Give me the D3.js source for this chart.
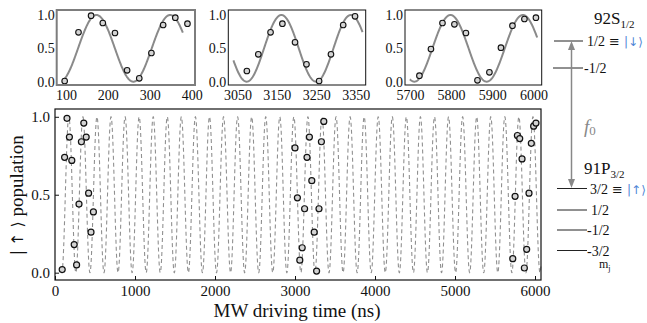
<!DOCTYPE html>
<html>
<head>
<meta charset="utf-8">
<script src="https://cdn.jsdelivr.net/npm/d3@7"></script>
<style>
  html, body { margin: 0; padding: 0; background: #fff; }
  svg { display: block; font-family: "Liberation Serif", "DejaVu Serif", serif; }
</style>
</head>
<body>
<svg id="chart" width="647" height="323"></svg>
<script>
// fit: P(t) = 0.5 - 0.5 cos(2pi (t - t0) / T), t0 = time of a minimum
const fitPeriod = 175.8;
const fitT0 = 85;

// main panel data (ns, population)
const times1 = [90, 120, 150, 180, 210, 240, 270, 300, 330, 360, 390, 420, 450, 480];
const pop1 = [0.02, 0.74, 0.99, 0.87, 0.72, 0.18, 0.05, 0.44, 0.84, 0.96, 0.87, 0.51, 0.26, 0.39];
const times2 = [3000, 3030, 3060, 3090, 3120, 3150, 3180, 3210, 3240, 3270, 3300, 3330, 3360];
const pop2 = [0.80, 0.48, 0.08, 0.16, 0.41, 0.74, 0.87, 0.59, 0.26, 0.01, 0.41, 0.84, 0.97];
const times3 = [5722, 5751, 5780, 5809, 5838, 5867, 5896, 5925, 5954, 5983, 6012];
const pop3 = [0.09, 0.49, 0.88, 0.86, 0.73, 0.03, 0.15, 0.51, 0.83, 0.94, 0.96];

// insets
const inset1Times = [97, 130, 160, 188, 217, 246, 275, 304, 332, 361, 390];
const inset1Pop = [0.01, 0.74, 0.99, 0.88, 0.73, 0.17, 0.05, 0.43, 0.85, 0.96, 0.87];
const inset2Times = [3074, 3103, 3134, 3164, 3196, 3225, 3257, 3287, 3318, 3348];
const inset2Pop = [0.16, 0.41, 0.74, 0.87, 0.59, 0.26, 0.01, 0.41, 0.85, 0.98];
const inset3Times = [5723, 5751, 5779, 5808, 5836, 5864, 5893, 5921, 5949, 5978, 6006];
const inset3Pop = [0.09, 0.49, 0.88, 0.86, 0.73, 0.02, 0.14, 0.51, 0.84, 0.94, 0.96];

const inset1Ticks = [100, 200, 300, 400];
const inset2Ticks = [3050, 3150, 3250, 3350];
const inset3Ticks = [5700, 5800, 5900, 6000];
const mainXTicks = [0, 1000, 2000, 3000, 4000, 5000, 6000];
const yTicks = [0, 0.5, 1];

const levelsS = ['1/2', '-1/2'];
const levelsP = ['3/2', '1/2', '-1/2', '-3/2'];

const svg = d3.select('#chart');
const fit = t => 0.5 - 0.5 * Math.cos(2 * Math.PI * (t - fitT0) / fitPeriod);
const fmt = d3.format('.1f');
const fmtX = d3.format('d');

function styleAxis(g, size) {
  g.attr('font-family', null).attr('font-size', null);
  g.select('.domain').remove();
  g.selectAll('text').attr('font-size', size).attr('fill', '#111');
  g.selectAll('line').attr('stroke', '#111');
}

// ---------- main panel ----------
const M = { left: 55, right: 541, top: 109, bottom: 280 };
const x = d3.scaleLinear().domain([0, 6075]).range([M.left, M.right]);
const y = d3.scaleLinear().domain([-0.047, 1.05]).range([M.bottom, M.top]);

const main = svg.append('g');
const curveT = d3.range(80, 6075, 1.5);
main.append('path')
  .attr('d', d3.line().x(t => x(t)).y(t => y(fit(t)))(curveT))
  .attr('fill', 'none').attr('stroke', '#909090').attr('stroke-width', 1.1)
  .attr('stroke-dasharray', '4,3');

main.append('g').attr('transform', `translate(0,${M.bottom})`)
  .call(d3.axisBottom(x).tickValues(mainXTicks).tickFormat(fmtX).tickSizeInner(-4).tickSizeOuter(0).tickPadding(5))
  .call(g => styleAxis(g, 15));
main.append('g').attr('transform', `translate(${M.left},0)`)
  .call(d3.axisLeft(y).tickValues(yTicks).tickFormat(fmt).tickSizeInner(-4).tickSizeOuter(0).tickPadding(5))
  .call(g => styleAxis(g, 15));

const mainPts = [
  ...times1.map((t, i) => [t, pop1[i]]),
  ...times2.map((t, i) => [t, pop2[i]]),
  ...times3.map((t, i) => [t, pop3[i]])
];
main.append('g').selectAll('circle').data(mainPts).join('circle')
  .attr('cx', d => x(d[0])).attr('cy', d => y(d[1])).attr('r', 3)
  .attr('fill', '#d4d4d4').attr('stroke', '#111').attr('stroke-width', 1.2);

main.append('rect').attr('x', M.left).attr('y', M.top)
  .attr('width', M.right - M.left).attr('height', M.bottom - M.top)
  .attr('fill', 'none').attr('stroke', '#111').attr('stroke-width', 1.2);

main.append('text').attr('x', 297).attr('y', 317).attr('text-anchor', 'middle')
  .attr('font-size', 19).attr('fill', '#111').text('MW driving time (ns)');

const yl = main.append('text').attr('transform', 'translate(23,195) rotate(-90)')
  .attr('text-anchor', 'middle').attr('font-size', 19).attr('fill', '#111');
yl.append('tspan').attr('font-weight', 'bold').text('| ');
yl.append('tspan').attr('font-family', 'DejaVu Sans').attr('font-size', 16).text('↑');
yl.append('tspan').attr('font-family', 'DejaVu Sans').attr('font-size', 16).text(' ⟩');
yl.append('tspan').text(' population');

// ---------- insets ----------
const insets = [
  { x0: 56.7, x1: 195, dom: [78, 408], ticks: inset1Ticks, times: inset1Times, pop: inset1Pop, curve: [92, 380], frame: '#7d7d7d', fw: 2 },
  { x0: 228.3, x1: 365.7, dom: [3027, 3375], ticks: inset2Ticks, times: inset2Times, pop: inset2Pop, curve: [3040, 3368], frame: '#111', fw: 1 },
  { x0: 405, x1: 541.7, dom: [5688, 6020], ticks: inset3Ticks, times: inset3Times, pop: inset3Pop, curve: [5700, 6010], frame: '#111', fw: 1 }
];
const iy = d3.scaleLinear().domain([-0.05, 1.075]).range([85, 10]);

insets.forEach(ins => {
  const g = svg.append('g');
  const ix = d3.scaleLinear().domain(ins.dom).range([ins.x0, ins.x1]);
  const ts = d3.range(ins.curve[0], ins.curve[1], 1);
  g.append('path')
    .attr('d', d3.line().x(t => ix(t)).y(t => iy(fit(t)))(ts))
    .attr('fill', 'none').attr('stroke', '#8a8a8a').attr('stroke-width', 2);
  g.append('g').selectAll('circle').data(ins.times.map((t, i) => [t, ins.pop[i]])).join('circle')
    .attr('cx', d => ix(d[0])).attr('cy', d => iy(d[1])).attr('r', 2.8)
    .attr('fill', '#d4d4d4').attr('stroke', '#111').attr('stroke-width', 1.1);
  g.append('g').attr('transform', 'translate(0,85)')
    .call(d3.axisBottom(ix).tickValues(ins.ticks).tickFormat(fmtX).tickSize(0).tickPadding(5))
    .call(a => styleAxis(a, 14));
  g.append('g').attr('transform', `translate(${ins.x0},0)`)
    .call(d3.axisLeft(iy).tickValues(yTicks).tickFormat(fmt).tickSize(0).tickPadding(2))
    .call(a => styleAxis(a, 14));
  g.append('rect').attr('x', ins.x0).attr('y', 10).attr('width', ins.x1 - ins.x0).attr('height', 75)
    .attr('fill', 'none').attr('stroke', ins.frame).attr('stroke-width', ins.fw);
});

// ---------- level diagram ----------
const lv = svg.append('g').attr('fill', '#111');
const blue = '#4f86d6';

function stateLabel(xx, yy, main, sub) {
  const tx = lv.append('text').attr('x', xx).attr('y', yy).attr('font-size', 17);
  tx.append('tspan').text(main);
  tx.append('tspan').attr('font-size', 11).attr('dy', 4).text(sub);
}
stateLabel(594, 24, '92S', '1/2');
stateLabel(584, 174, '91P', '3/2');

const sY = [41, 68];
levelsS.forEach((l, i) => {
  lv.append('line').attr('x1', i ? 553 : 554).attr('x2', 583).attr('y1', sY[i]).attr('y2', sY[i])
    .attr('stroke', '#222').attr('stroke-width', 1);
  const t = lv.append('text').attr('x', i ? 584 : 587).attr('y', sY[i] + 5).attr('font-size', 14).text(l);
  if (i === 0) {
    t.append('tspan').attr('font-family', 'DejaVu Sans').attr('font-size', 13).text(' ≡ ');
    t.append('tspan').attr('fill', blue).attr('font-family', 'DejaVu Sans').attr('font-size', 12).text('|↓⟩');
  }
});
const pY = [188.5, 210, 230, 250.5];
levelsP.forEach((l, i) => {
  lv.append('line').attr('x1', 557).attr('x2', 587).attr('y1', pY[i]).attr('y2', pY[i])
    .attr('stroke', '#222').attr('stroke-width', 1);
  const t = lv.append('text').attr('x', i === 1 ? 591 : (i === 0 ? 590 : 587)).attr('y', pY[i] + 5)
    .attr('font-size', 14).text(l);
  if (i === 0) {
    t.append('tspan').attr('font-family', 'DejaVu Sans').attr('font-size', 13).text(' ≡ ');
    t.append('tspan').attr('fill', blue).attr('font-family', 'DejaVu Sans').attr('font-size', 12).text('|↑⟩');
  }
});
const mj = lv.append('text').attr('x', 599).attr('y', 268).attr('font-size', 12);
mj.append('tspan').text('m');
mj.append('tspan').attr('font-size', 8).attr('dy', 3).text('j');

// double arrow
const ax = 571.5;
lv.append('line').attr('x1', ax).attr('x2', ax).attr('y1', 47).attr('y2', 182)
  .attr('stroke', '#888').attr('stroke-width', 1.5);
lv.append('path').attr('d', `M${ax},41 L${ax - 3.5},50 L${ax + 3.5},50 Z`).attr('fill', '#888');
lv.append('path').attr('d', `M${ax},188 L${ax - 3.5},179 L${ax + 3.5},179 Z`).attr('fill', '#888');
const f0 = lv.append('text').attr('x', 584).attr('y', 133).attr('font-size', 19)
  .attr('font-style', 'italic').attr('fill', '#888');
f0.append('tspan').text('f');
f0.append('tspan').attr('font-size', 13).attr('dy', 2).attr('font-style', 'normal').text('0');
</script>
</body>
</html>
